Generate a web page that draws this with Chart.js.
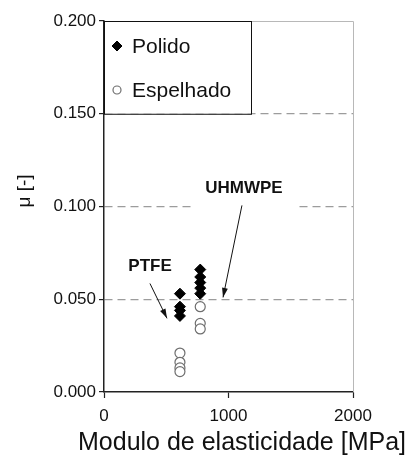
<!DOCTYPE html>
<html>
<head>
<meta charset="utf-8">
<script src="https://cdn.jsdelivr.net/npm/chart.js@4/dist/chart.umd.min.js"></script>
<style>
  html, body { margin: 0; padding: 0; background: #fff; }
  #wrap { width: 410px; height: 456px; }
</style>
</head>
<body>
<div id="wrap"><canvas id="c" width="410" height="456"></canvas></div>
<script>
// Friction coefficient versus elastic modulus, two surface finishes
const materials = ['PTFE', 'UHMWPE'];
const modulus = [610, 773];                       // MPa
const polidoPTFE = [0.053, 0.046, 0.044, 0.041];
const polidoUHMWPE = [0.066, 0.062, 0.059, 0.056, 0.053];
const espelhadoPTFE = [0.021, 0.016, 0.013, 0.011];
const espelhadoUHMWPE = [0.046, 0.037, 0.034];
const seriesNames = ['Polido', 'Espelhado'];
const yTicks = [0, 0.05, 0.10, 0.15, 0.20];
const xTicks = [0, 1000, 2000];
const xTitle = 'Modulo de elasticidade [MPa]';
const yTitle = 'μ [-]';

const FONT = '"Liberation Sans", Arial, sans-serif';

function pts(x, ys) { return ys.map(y => ({ x: x, y: y })); }

const polidoData = pts(modulus[0], polidoPTFE).concat(pts(modulus[1], polidoUHMWPE));
const espelhadoData = pts(modulus[0], espelhadoPTFE).concat(pts(modulus[1], espelhadoUHMWPE));

// annotation labels and arrows, in data coordinates
const notes = [
  { text: materials[0], at: [370, 0.0678], from: [369, 0.0585], to: [506, 0.0397], bg: false },
  { text: materials[1], at: [1124, 0.1098], from: [1108, 0.1006], to: [956, 0.051], bg: true }
];

const decor = {
  id: 'decor',
  afterDraw(chart) {
    const { ctx, chartArea: a, scales: { x, y } } = chart;
    ctx.save();
    // light frame on top and right
    ctx.strokeStyle = '#b8b8b8';
    ctx.lineWidth = 1;
    ctx.beginPath();
    ctx.moveTo(a.left, a.top + 0.5);
    ctx.lineTo(a.right + 0.5, a.top + 0.5);
    ctx.lineTo(a.right + 0.5, a.bottom);
    ctx.stroke();

    // annotations
    ctx.font = 'bold 17px ' + FONT;
    ctx.textAlign = 'center';
    ctx.textBaseline = 'middle';
    notes.forEach(n => {
      const cx = x.getPixelForValue(n.at[0]);
      const cy = y.getPixelForValue(n.at[1]);
      if (n.bg) {
        const w = ctx.measureText(n.text).width + 26;
        ctx.fillStyle = '#fff';
        ctx.fillRect(cx - w / 2, cy - 12, w, 34);
      }
      ctx.fillStyle = '#111';
      ctx.fillText(n.text, cx, cy);
      const x1 = x.getPixelForValue(n.from[0]), y1 = y.getPixelForValue(n.from[1]);
      const x2 = x.getPixelForValue(n.to[0]), y2 = y.getPixelForValue(n.to[1]);
      ctx.strokeStyle = '#111';
      ctx.lineWidth = 1;
      ctx.beginPath();
      ctx.moveTo(x1, y1);
      ctx.lineTo(x2, y2);
      ctx.stroke();
      const ang = Math.atan2(y2 - y1, x2 - x1);
      const L = 10, W = 0.3;
      ctx.beginPath();
      ctx.moveTo(x2, y2);
      ctx.lineTo(x2 - L * Math.cos(ang - W), y2 - L * Math.sin(ang - W));
      ctx.lineTo(x2 - L * Math.cos(ang + W), y2 - L * Math.sin(ang + W));
      ctx.closePath();
      ctx.fillStyle = '#111';
      ctx.fill();
    });

    // legend box inside the plot
    const lx = a.left, ly = a.top, lw = 147, lh = y.getPixelForValue(0.15) - a.top;
    ctx.fillStyle = '#fff';
    ctx.fillRect(lx, ly, lw, lh);
    ctx.strokeStyle = '#111';
    ctx.lineWidth = 1;
    ctx.strokeRect(lx + 0.5, ly + 0.5, lw, lh);
    const ds = chart.data.datasets;
    ctx.font = '21px ' + FONT;
    ctx.textAlign = 'left';
    ctx.textBaseline = 'middle';
    [46, 90].forEach((yy, i) => {
      const d = ds[i];
      ctx.fillStyle = d.backgroundColor;
      ctx.strokeStyle = d.borderColor;
      ctx.lineWidth = d.borderWidth;
      ctx.beginPath();
      if (d.pointStyle === 'circle') {
        ctx.arc(lx + 13, yy, 4, 0, Math.PI * 2);
      } else {
        ctx.moveTo(lx + 13, yy - 5);
        ctx.lineTo(lx + 18, yy);
        ctx.lineTo(lx + 13, yy + 5);
        ctx.lineTo(lx + 8, yy);
        ctx.closePath();
      }
      ctx.fill();
      ctx.stroke();
      ctx.fillStyle = '#111';
      ctx.fillText(d.label, lx + 28, yy + 1);
    });

    // axis titles
    ctx.fillStyle = '#111';
    ctx.font = '25px ' + FONT;
    ctx.textAlign = 'center';
    ctx.textBaseline = 'alphabetic';
    ctx.fillText(xTitle, 242, 450);
    ctx.save();
    ctx.translate(30, 191);
    ctx.rotate(-Math.PI / 2);
    ctx.font = '19px ' + FONT;
    ctx.fillText(yTitle, 0, 0);
    ctx.restore();
    ctx.restore();
  }
};

new Chart(document.getElementById('c'), {
  type: 'scatter',
  data: {
    datasets: [
      {
        label: seriesNames[0], data: polidoData,
        pointStyle: 'rectRot', radius: 5.5, hoverRadius: 5.5,
        backgroundColor: '#000', borderColor: '#000', borderWidth: 1
      },
      {
        label: seriesNames[1], data: espelhadoData,
        pointStyle: 'circle', radius: 5, hoverRadius: 5,
        backgroundColor: '#fff', borderColor: '#6e6e6e', borderWidth: 1.2
      }
    ]
  },
  options: {
    responsive: false,
    animation: false,
    devicePixelRatio: 1,
    layout: { padding: { left: 0, right: 57, top: 21, bottom: 0 } },
    plugins: { legend: { display: false }, tooltip: { enabled: false } },
    scales: {
      x: {
        type: 'linear', min: 0, max: 2000,
        afterBuildTicks: s => { s.ticks = xTicks.map(v => ({ value: v })); },
        afterFit: s => { s.height = 64; },
        ticks: {
          color: '#111', font: { family: FONT, size: 17 }, padding: 8,
          maxRotation: 0, callback: v => String(v)
        },
        grid: {
          drawOnChartArea: false, drawTicks: true, tickLength: 6,
          tickColor: '#222', tickWidth: 1.2
        },
        border: { display: true, color: '#222', width: 1.5 }
      },
      y: {
        type: 'linear', min: 0, max: 0.2,
        afterBuildTicks: s => { s.ticks = yTicks.map(v => ({ value: v })); },
        afterFit: s => { s.width = 104; },
        ticks: {
          color: '#111', font: { family: FONT, size: 17 }, padding: 3,
          callback: v => Number(v).toFixed(3)
        },
        grid: {
          drawOnChartArea: true, drawTicks: true, tickLength: 5,
          color: c => (c.tick && (c.tick.value === 0 || Math.abs(c.tick.value - 0.2) < 1e-9)) ? 'rgba(0,0,0,0)' : '#9c9c9c',
          lineWidth: 1.2,
          tickColor: '#222', tickWidth: 1.2, tickBorderDash: []
        },
        border: { display: true, color: '#222', width: 1.5, dash: [8, 5] }
      }
    }
  },
  plugins: [decor]
});
</script>
</body>
</html>
